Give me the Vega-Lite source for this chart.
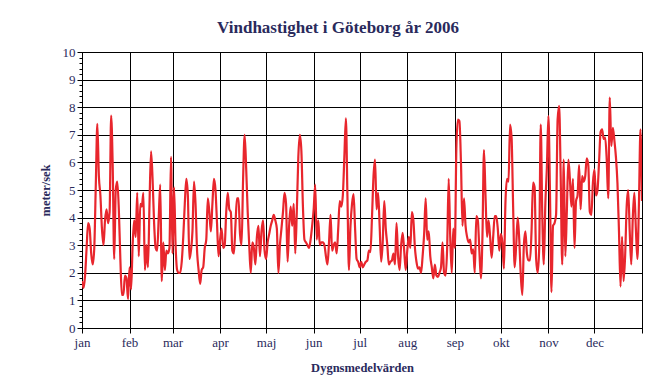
{
  "$schema": "https://vega.github.io/schema/vega-lite/v6.json",
  "autosize": "none",
  "padding": {"left": 82, "top": 52, "right": 23, "bottom": 62},
  "width": 560,
  "height": 276,
  "background": "white",
  "title": {
    "text": "Vindhastighet i Göteborg år 2006",
    "font": "Liberation Serif",
    "fontSize": 17,
    "fontWeight": "bold",
    "color": "#2a2a5c",
    "offset": 9,
    "dx": -24
  },
  "config": {
    "view": {"stroke": "black", "strokeWidth": 1},
    "axis": {
      "labelFont": "Liberation Serif",
      "titleFont": "Liberation Serif",
      "labelFontSize": 13,
      "titleFontSize": 12.5,
      "labelColor": "#2a2a5c",
      "titleColor": "#2a2a5c",
      "titleFontWeight": "bold",
      "domainColor": "black",
      "tickColor": "black",
      "gridColor": "black",
      "gridOpacity": 1,
      "gridWidth": 1
    }
  },
  "data": {
    "values": [
      {"d":0,"v":1.7},{"d":1,"v":1.45},{"d":2,"v":1.9},{"d":3,"v":2.9},{"d":4,"v":3.8},{"d":5,"v":3.6},{"d":6,"v":2.7},{"d":7,"v":2.3},{"d":8,"v":2.9},{"d":9,"v":5.2},
      {"d":10,"v":7.4},{"d":11,"v":5.5},{"d":12,"v":4.8},{"d":13,"v":3.6},{"d":14,"v":3.0},{"d":15,"v":3.9},{"d":16,"v":4.3},{"d":17,"v":3.8},{"d":18,"v":4.2},{"d":19,"v":7.7},
      {"d":20,"v":5.9},{"d":21,"v":2.5},{"d":22,"v":5.0},{"d":23,"v":5.3},{"d":24,"v":4.3},{"d":25,"v":2.5},{"d":26,"v":1.2},{"d":27,"v":1.2},{"d":28,"v":1.9},{"d":29,"v":1.8},
      {"d":30,"v":1.05},{"d":31,"v":2.2},{"d":32,"v":1.4},{"d":33,"v":3.0},{"d":34,"v":3.9},{"d":35,"v":3.3},{"d":36,"v":4.9},{"d":37,"v":2.6},{"d":38,"v":4.5},{"d":39,"v":4.4},
      {"d":40,"v":4.9},{"d":41,"v":2.1},{"d":42,"v":3.0},{"d":43,"v":2.2},{"d":44,"v":4.5},{"d":45,"v":6.4},{"d":46,"v":5.4},{"d":47,"v":3.8},{"d":48,"v":2.9},{"d":49,"v":2.8},
      {"d":50,"v":4.0},{"d":51,"v":5.2},{"d":52,"v":1.7},{"d":53,"v":3.1},{"d":54,"v":2.1},{"d":55,"v":2.8},{"d":56,"v":2.7},{"d":57,"v":2.9},{"d":58,"v":6.2},{"d":59,"v":2.7},
      {"d":60,"v":5.1},{"d":61,"v":3.0},{"d":62,"v":2.1},{"d":63,"v":2.0},{"d":64,"v":2.0},{"d":65,"v":2.4},{"d":66,"v":3.3},{"d":67,"v":4.5},{"d":68,"v":5.4},{"d":69,"v":4.8},
      {"d":70,"v":2.5},{"d":71,"v":2.8},{"d":72,"v":3.5},{"d":73,"v":5.3},{"d":74,"v":4.5},{"d":75,"v":2.8},{"d":76,"v":2.1},{"d":77,"v":1.6},{"d":78,"v":2.1},{"d":79,"v":2.2},
      {"d":80,"v":2.9},{"d":81,"v":3.2},{"d":82,"v":4.7},{"d":83,"v":4.2},{"d":84,"v":3.5},{"d":85,"v":4.5},{"d":86,"v":5.4},{"d":87,"v":5.0},{"d":88,"v":3.8},{"d":89,"v":2.6},
      {"d":90,"v":3.2},{"d":91,"v":3.6},{"d":92,"v":2.9},{"d":93,"v":3.0},{"d":94,"v":4.2},{"d":95,"v":4.9},{"d":96,"v":4.3},{"d":97,"v":4.2},{"d":98,"v":2.8},{"d":99,"v":2.7},
      {"d":100,"v":3.7},{"d":101,"v":4.7},{"d":102,"v":4.7},{"d":103,"v":3.4},{"d":104,"v":3.0},{"d":105,"v":5.4},{"d":106,"v":7.0},{"d":107,"v":5.8},{"d":108,"v":4.2},{"d":109,"v":3.0},
      {"d":110,"v":2.0},{"d":111,"v":3.1},{"d":112,"v":2.9},{"d":113,"v":2.3},{"d":114,"v":3.3},{"d":115,"v":3.7},{"d":116,"v":2.6},{"d":117,"v":3.5},{"d":118,"v":3.9},{"d":119,"v":2.8},
      {"d":120,"v":2.5},{"d":121,"v":3.1},{"d":122,"v":3.4},{"d":123,"v":3.7},{"d":124,"v":3.9},{"d":125,"v":4.1},{"d":126,"v":3.9},{"d":127,"v":3.6},{"d":128,"v":2.0},{"d":129,"v":3.0},
      {"d":130,"v":3.6},{"d":131,"v":4.2},{"d":132,"v":4.9},{"d":133,"v":4.5},{"d":134,"v":2.4},{"d":135,"v":3.7},{"d":136,"v":4.4},{"d":137,"v":3.7},{"d":138,"v":4.5},{"d":139,"v":2.7},
      {"d":140,"v":4.2},{"d":141,"v":6.2},{"d":142,"v":7.0},{"d":143,"v":6.4},{"d":144,"v":4.4},{"d":145,"v":3.2},{"d":146,"v":3.1},{"d":147,"v":3.0},{"d":148,"v":2.9},{"d":149,"v":3.2},
      {"d":150,"v":3.7},{"d":151,"v":4.3},{"d":152,"v":5.2},{"d":153,"v":3.2},{"d":154,"v":3.9},{"d":155,"v":3.0},{"d":156,"v":3.1},{"d":157,"v":3.1},{"d":158,"v":3.0},{"d":159,"v":2.6},
      {"d":160,"v":2.3},{"d":161,"v":3.1},{"d":162,"v":4.1},{"d":163,"v":2.8},{"d":164,"v":3.0},{"d":165,"v":3.1},{"d":166,"v":2.7},{"d":167,"v":3.6},{"d":168,"v":4.6},{"d":169,"v":4.4},
      {"d":170,"v":4.8},{"d":171,"v":6.2},{"d":172,"v":7.6},{"d":173,"v":4.8},{"d":174,"v":2.1},{"d":175,"v":3.7},{"d":176,"v":4.5},{"d":177,"v":4.85},{"d":178,"v":3.6},{"d":179,"v":2.5},
      {"d":180,"v":2.4},{"d":181,"v":2.2},{"d":182,"v":2.4},{"d":183,"v":2.2},{"d":184,"v":2.3},{"d":185,"v":2.4},{"d":186,"v":2.45},{"d":187,"v":2.8},{"d":188,"v":2.75},{"d":189,"v":4.0},
      {"d":190,"v":5.5},{"d":191,"v":6.1},{"d":192,"v":4.3},{"d":193,"v":4.9},{"d":194,"v":3.7},{"d":195,"v":2.4},{"d":196,"v":3.1},{"d":197,"v":4.6},{"d":198,"v":3.6},{"d":199,"v":3.0},
      {"d":200,"v":2.3},{"d":201,"v":2.4},{"d":202,"v":2.45},{"d":203,"v":2.7},{"d":204,"v":2.3},{"d":205,"v":3.8},{"d":206,"v":2.6},{"d":207,"v":2.1},{"d":208,"v":3.0},{"d":209,"v":3.45},
      {"d":210,"v":2.8},{"d":211,"v":2.1},{"d":212,"v":2.8},{"d":213,"v":3.3},{"d":214,"v":2.9},{"d":215,"v":4.2},{"d":216,"v":3.9},{"d":217,"v":2.9},{"d":218,"v":2.4},{"d":219,"v":2.15},
      {"d":220,"v":2.2},{"d":221,"v":2.0},{"d":222,"v":2.6},{"d":223,"v":3.4},{"d":224,"v":4.7},{"d":225,"v":3.2},{"d":226,"v":3.5},{"d":227,"v":2.6},{"d":228,"v":2.2},{"d":229,"v":1.8},
      {"d":230,"v":2.3},{"d":231,"v":1.9},{"d":232,"v":1.85},{"d":233,"v":2.0},{"d":234,"v":2.2},{"d":235,"v":3.1},{"d":236,"v":2.0},{"d":237,"v":1.9},{"d":238,"v":2.9},{"d":239,"v":5.4},
      {"d":240,"v":3.3},{"d":241,"v":2.0},{"d":242,"v":3.6},{"d":243,"v":2.9},{"d":244,"v":6.5},{"d":245,"v":7.55},{"d":246,"v":7.5},{"d":247,"v":6.0},{"d":248,"v":3.7},{"d":249,"v":4.7},
      {"d":250,"v":3.7},{"d":251,"v":3.3},{"d":252,"v":3.1},{"d":253,"v":3.2},{"d":254,"v":2.7},{"d":255,"v":2.85},{"d":256,"v":2.0},{"d":257,"v":4.05},{"d":258,"v":3.9},{"d":259,"v":2.8},
      {"d":260,"v":1.8},{"d":261,"v":3.3},{"d":262,"v":6.45},{"d":263,"v":4.8},{"d":264,"v":3.3},{"d":265,"v":3.9},{"d":266,"v":3.3},{"d":267,"v":2.55},{"d":268,"v":3.3},{"d":269,"v":4.05},
      {"d":270,"v":4.05},{"d":271,"v":3.6},{"d":272,"v":2.8},{"d":273,"v":3.4},{"d":274,"v":3.1},{"d":275,"v":2.15},{"d":276,"v":4.55},{"d":277,"v":5.4},{"d":278,"v":5.3},{"d":279,"v":7.37},
      {"d":280,"v":6.9},{"d":281,"v":4.4},{"d":282,"v":2.2},{"d":283,"v":3.0},{"d":284,"v":4.0},{"d":285,"v":3.2},{"d":286,"v":1.9},{"d":287,"v":1.2},{"d":288,"v":3.0},{"d":289,"v":3.5},
      {"d":290,"v":2.7},{"d":291,"v":2.45},{"d":292,"v":2.45},{"d":293,"v":3.5},{"d":294,"v":5.27},{"d":295,"v":5.1},{"d":296,"v":2.5},{"d":297,"v":2.0},{"d":298,"v":2.9},{"d":299,"v":7.37},
      {"d":300,"v":4.1},{"d":301,"v":2.3},{"d":302,"v":4.5},{"d":303,"v":5.8},{"d":304,"v":7.68},{"d":305,"v":5.0},{"d":306,"v":1.3},{"d":307,"v":3.7},{"d":308,"v":3.8},{"d":309,"v":4.1},
      {"d":310,"v":7.55},{"d":311,"v":8.05},{"d":312,"v":5.5},{"d":313,"v":2.3},{"d":314,"v":6.1},{"d":315,"v":2.6},{"d":316,"v":4.2},{"d":317,"v":6.1},{"d":318,"v":5.4},{"d":319,"v":4.4},
      {"d":320,"v":5.4},{"d":321,"v":2.9},{"d":322,"v":4.6},{"d":323,"v":4.8},{"d":324,"v":5.9},{"d":325,"v":4.3},{"d":326,"v":5.5},{"d":327,"v":5.3},{"d":328,"v":5.5},{"d":329,"v":6.15},
      {"d":330,"v":5.9},{"d":331,"v":4.2},{"d":332,"v":4.1},{"d":333,"v":5.25},{"d":334,"v":5.75},{"d":335,"v":4.8},{"d":336,"v":5.0},{"d":337,"v":6.0},{"d":338,"v":7.1},{"d":339,"v":7.2},
      {"d":340,"v":6.85},{"d":341,"v":6.9},{"d":342,"v":6.1},{"d":343,"v":4.7},{"d":344,"v":8.35},{"d":345,"v":6.6},{"d":346,"v":7.25},{"d":347,"v":6.8},{"d":348,"v":6.2},{"d":349,"v":5.25},
      {"d":350,"v":3.5},{"d":351,"v":1.5},{"d":352,"v":3.3},{"d":353,"v":1.7},{"d":354,"v":2.6},{"d":355,"v":4.4},{"d":356,"v":5.0},{"d":357,"v":3.5},{"d":358,"v":2.3},{"d":359,"v":4.0},
      {"d":360,"v":4.9},{"d":361,"v":3.6},{"d":362,"v":2.5},{"d":363,"v":4.5},{"d":364,"v":7.2},{"d":365,"v":4.6}
    ]
  },
  "mark": {"type": "line", "color": "#e8262d", "strokeWidth": 2.2, "interpolate": "monotone", "clip": true},
  "encoding": {
    "x": {
      "field": "d",
      "type": "quantitative",
      "scale": {"domain": [0, 365], "nice": false, "zero": false},
      "axis": {
        "values": [0, 31, 59, 90, 120, 151, 181, 212, 243, 273, 304, 334, 365],
        "labelExpr": "['jan','feb','mar','apr','maj','jun','jul','aug','sep','okt','nov','dec',''][indexof([0,31,59,90,120,151,181,212,243,273,304,334,365], datum.value)]",
        "labelOverlap": false,
        "labelFlush": false,
        "grid": true,
        "tickSize": 5,
        "labelPadding": 3,
        "title": "Dygnsmedelvärden",
        "titlePadding": 12
      }
    },
    "y": {
      "field": "v",
      "type": "quantitative",
      "scale": {"domain": [0, 10], "nice": false},
      "axis": {
        "values": [0,0.2,0.4,0.6,0.8,1,1.2,1.4,1.6,1.8,2,2.2,2.4,2.6,2.8,3,3.2,3.4,3.6,3.8,4,4.2,4.4,4.6,4.8,5,5.2,5.4,5.6,5.8,6,6.2,6.4,6.6,6.8,7,7.2,7.4,7.6,7.8,8,8.2,8.4,8.6,8.8,9,9.2,9.4,9.6,9.8,10],
        "labelExpr": "abs(datum.value - round(datum.value)) < 0.01 ? format(datum.value, 'd') : ''",
        "labelOverlap": false,
        "labelFlush": false,
        "grid": true,
        "gridOpacity": {"condition": {"test": "abs(datum.value - round(datum.value)) < 0.01", "value": 1}, "value": 0},
        "tickSize": {"condition": {"test": "abs(datum.value - round(datum.value)) < 0.01", "value": 5}, "value": 3},
        "labelPadding": 2,
        "title": "meter/sek",
        "titlePadding": 10
      }
    }
  }
}
